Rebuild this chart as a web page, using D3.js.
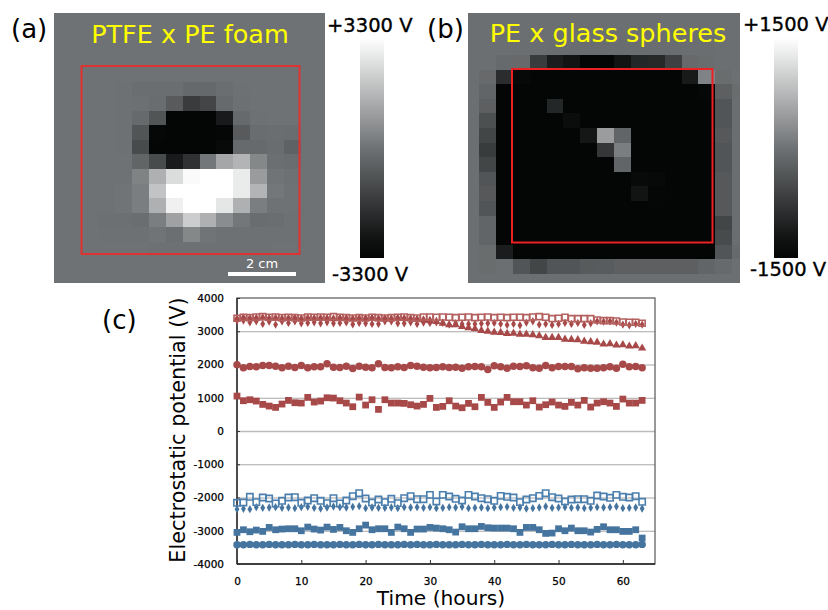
<!DOCTYPE html>
<html><head><meta charset="utf-8">
<script src="https://cdn.jsdelivr.net/npm/d3@7/dist/d3.min.js"></script>
<style>html,body{margin:0;padding:0;background:#fff}svg{display:block}text{font-family:"DejaVu Sans",sans-serif}</style>
</head><body><svg id="c" width="828" height="610"></svg>
<script>
// ---- heat map (a), volts, rows top to bottom, 17 columns
const mapA = [
[0,0,0,0,0,0,0,0,0,0,0,0,0,0,0,0,0],
[0,0,0,0,0,0,0,0,0,0,0,0,0,0,0,0,0],
[0,0,0,0,0,0,0,0,0,0,0,0,0,0,0,0,0],
[0,0,0,0,0,0,0,0,0,0,0,0,0,0,0,0,0],
[0,0,0,0,0,0,0,0,0,0,0,0,0,0,0,0,0],
[0,0,0,0,-30,-100,-100,-100,-250,-250,-100,-30,0,0,0,0,0],
[0,0,0,0,-30,-50,-150,-670,-1550,-1260,-230,-50,0,0,0,0,0],
[0,0,0,0,-30,-230,-820,-3300,-3300,-3300,-2480,-230,-30,0,0,0,0],
[0,0,0,0,-30,-820,-3100,-3300,-3300,-3300,-3200,-670,-150,-100,-150,0,0],
[0,0,0,0,-30,-1110,-3300,-3300,-3300,-3300,-2950,-230,-230,-150,-450,0,0],
[0,0,0,0,0,-380,-1110,-2480,-1840,120,1210,1550,510,-90,-150,0,0],
[0,0,0,0,0,390,1440,2480,3180,3300,3300,2830,970,50,-30,0,0],
[0,0,0,0,50,280,1900,3300,3300,3300,3300,2830,1550,120,0,0,0],
[0,0,0,0,50,280,1440,2950,3300,3300,2710,1440,280,0,0,0,0],
[0,0,0,-50,-50,-100,280,1090,2130,1440,630,120,-150,-100,-30,0,0],
[0,0,0,-30,-30,-30,50,-90,510,50,-30,-30,-30,-30,-30,0,0],
[0,0,0,0,0,0,-30,-30,-30,-30,-30,-30,-30,0,0,0,0],
[0,0,0,0,0,0,0,0,0,0,0,0,0,0,0,0,0],
[0,0,0,0,0,0,0,0,0,0,0,0,0,0,0,0,0]
];
// ---- heat map (b), volts
const mapB = [
[-40,-40,-40,-40,-40,-40,-40,-40,-40,-40,-40,-40,-40,-40,-40,-40,-40],
[-40,-40,-40,-40,-40,-40,-40,-40,-40,-40,-40,-40,-40,-40,-40,-40,-40],
[-40,-40,-40,-50,-50,-60,-60,-60,-60,-60,-60,-60,-60,-50,-50,-40,-40],
[-40,-40,-100,-110,-700,-1100,-1210,-1500,-1500,-1210,-970,-940,-640,-110,-70,-40,-40],
[-40,-110,-900,-1370,-1500,-1500,-1500,-1500,-1500,-1500,-1500,-1500,-1500,-1130,180,-70,-20],
[-40,-170,-1500,-1500,-1500,-1500,-1500,-1500,-1500,-1500,-1500,-1500,-1500,-1500,-1400,-240,-70],
[-40,-240,-1500,-1500,-1500,-970,-1500,-1500,-1500,-1500,-1500,-1500,-1500,-1500,-1500,-370,-50],
[-40,-440,-1500,-1500,-1500,-1500,-1300,-1500,-1500,-1500,-1500,-1500,-1500,-1500,-1500,-370,-50],
[-40,-570,-1500,-1500,-1500,-1500,-1500,-1170,450,-170,-1500,-1500,-1500,-1500,-1500,-330,-50],
[-40,-700,-1500,-1500,-1500,-1500,-1500,-1500,-770,130,-1500,-1500,-1500,-1500,-1500,-370,-50],
[-40,-570,-1500,-1500,-1500,-1500,-1500,-1500,-1500,-170,-1500,-1500,-1500,-1500,-1500,-370,-50],
[-40,-370,-1500,-1500,-1500,-1500,-1500,-1500,-1500,-1500,-1340,-1370,-1500,-1500,-1500,-330,-50],
[-40,-330,-1500,-1500,-1500,-1500,-1500,-1500,-1500,-1500,-1210,-1430,-1500,-1500,-1500,-330,-50],
[-40,-370,-1500,-1500,-1500,-1500,-1500,-1500,-1500,-1500,-1500,-1500,-1500,-1500,-1500,-330,-50],
[-40,-170,-1500,-1500,-1500,-1500,-1500,-1500,-1500,-1500,-1500,-1500,-1500,-1500,-1500,-570,-50],
[-40,-170,-1500,-1500,-1500,-1500,-1500,-1500,-1500,-1500,-1500,-1500,-1500,-1500,-1500,-500,-50],
[-40,-70,-1100,-1500,-1500,-1500,-1500,-1500,-1500,-1500,-1500,-1500,-1500,-1500,-1500,-370,-100],
[-40,-70,-40,-370,-570,-370,-370,-300,-280,-240,-240,-240,-240,-240,-170,-100,-40],
[-40,-40,-40,-40,-40,-40,-40,-40,-40,-40,-40,-40,-40,-40,-40,-40,-40]
];
// ---- chart (c)
const xTicks = [0,10,20,30,40,50,60];
const yTicks = [-4000,-3000,-2000,-1000,0,1000,2000,3000,4000];
const hours = d3.range(64);
const redSquareOpen = [3390,3420,3410,3430,3440,3420,3430,3410,3420,3410,3400,3430,3420,3430,3420,3440,3420,3410,3400,3410,3400,3420,3410,3400,3410,3420,3430,3410,3400,3430,3430,3420,3430,3420,3410,3420,3430,3410,3420,3430,3410,3420,3410,3420,3420,3410,3430,3440,3420,3380,3390,3420,3380,3380,3380,3380,3340,3320,3320,3310,3280,3270,3270,3240];
const redDiamond = [3320,3320,3270,3300,3220,3290,3200,3300,3250,3300,3240,3250,3270,3240,3270,3240,3250,3270,3210,3250,3240,3220,3220,3300,3300,3240,3240,3270,3220,3260,3250,3270,3250,3200,3240,3220,3220,3220,3230,3240,3250,3220,3190,3220,3180,3260,3300,3200,3220,3190,3220,3250,3220,3250,3190,3240,3300,3290,3300,3260,3200,3180,3220,3200];
const redTriangle = [3370,3400,3380,3390,3400,3380,3390,3370,3380,3390,3370,3390,3380,3390,3380,3370,3390,3380,3370,3380,3380,3390,3370,3380,3370,3390,3380,3370,3360,3340,3320,3290,3240,3190,3190,3140,3100,3070,3020,3000,2970,2960,2930,2940,2910,2910,2890,2860,2810,2810,2810,2760,2750,2740,2700,2680,2670,2610,2620,2580,2590,2550,2560,2490];
const redCircle = [1990,1900,1940,1930,1970,1970,1950,1900,1950,1910,1970,1900,1930,1930,2020,1920,1910,1950,1880,1950,1920,1900,2020,1910,1900,1930,1910,1970,1950,1920,1900,1910,1930,1910,1920,1890,1930,1940,1930,1850,1960,1930,1890,1950,1940,1960,1900,1890,1970,1900,1940,1940,1940,1870,1900,1890,1890,1900,1930,1890,2010,1930,1940,1900];
const redSquare = [1050,910,940,900,800,750,710,810,920,850,840,1010,870,900,1000,990,910,840,730,1020,780,940,650,940,840,840,830,790,750,800,980,710,740,910,750,700,830,730,1010,860,710,870,1010,880,880,780,910,720,790,870,780,740,860,780,920,720,840,880,840,740,960,840,840,920];
const blueSquareOpen = [-2160,-2150,-1980,-2140,-2000,-2030,-2180,-2100,-2000,-1990,-2160,-2090,-2020,-2100,-2170,-2020,-2180,-2090,-1960,-1870,-2030,-2150,-2060,-2140,-2040,-2170,-2020,-1960,-2050,-2050,-1920,-2120,-1920,-1970,-2040,-2090,-1920,-1970,-2020,-2050,-2100,-1950,-1980,-2000,-2140,-2060,-2020,-1950,-1870,-1990,-2030,-2120,-2060,-2050,-2050,-2100,-1940,-1970,-2010,-1920,-1980,-2000,-1960,-2130];
const blueDiamond = [-2350,-2340,-2350,-2290,-2310,-2300,-2290,-2310,-2300,-2320,-2290,-2280,-2310,-2330,-2300,-2270,-2290,-2300,-2280,-2260,-2320,-2300,-2310,-2310,-2300,-2320,-2290,-2300,-2290,-2310,-2290,-2320,-2310,-2290,-2300,-2280,-2320,-2310,-2300,-2320,-2300,-2290,-2280,-2310,-2300,-2330,-2320,-2300,-2270,-2310,-2300,-2290,-2310,-2300,-2320,-2310,-2290,-2300,-2290,-2270,-2320,-2310,-2300,-2330];
const blueSquare = [-3050,-2970,-3030,-2980,-3020,-2900,-2970,-2950,-2940,-2940,-3000,-2890,-2950,-2980,-2890,-2960,-2900,-3000,-3050,-2940,-2830,-2970,-2940,-2940,-3050,-2890,-2940,-3050,-2950,-2950,-2900,-2920,-2940,-2970,-3040,-2880,-2940,-2940,-2870,-2910,-2920,-2920,-2920,-2940,-3050,-2900,-2900,-2970,-3080,-3070,-2940,-3000,-2920,-3000,-3000,-3040,-2960,-2880,-2970,-2970,-3020,-3020,-2970,-3220];
const blueCircle = [-3420,-3420,-3410,-3420,-3420,-3410,-3420,-3420,-3420,-3410,-3420,-3420,-3410,-3420,-3420,-3420,-3410,-3420,-3420,-3410,-3420,-3420,-3410,-3420,-3420,-3420,-3410,-3420,-3410,-3420,-3420,-3410,-3420,-3420,-3420,-3410,-3420,-3420,-3410,-3420,-3420,-3420,-3410,-3420,-3420,-3410,-3420,-3420,-3420,-3410,-3420,-3420,-3410,-3420,-3420,-3420,-3410,-3420,-3420,-3410,-3420,-3420,-3420,-3410];

const RED="#a84848", RED2="#b4605f", BLUE="#44749f", BLUE2="#4b7fae";
const seriesList=[
 {v:redSquare,s:d3.symbolSquare,a:46,c:RED},
 {v:redCircle,s:d3.symbolCircle,a:44,c:RED},
 {v:redTriangle,s:d3.symbolTriangle,a:30,c:RED},
 {v:redDiamond,s:d3.symbolDiamond,a:20,c:RED},
 {v:redSquareOpen,s:d3.symbolSquare,a:36,c:RED2,open:1},
 {v:blueCircle,s:d3.symbolCircle,a:44,c:BLUE},
 {v:blueSquare,s:d3.symbolSquare,a:46,c:BLUE},
 {v:blueDiamond,s:d3.symbolDiamond,a:20,c:BLUE},
 {v:blueSquareOpen,s:d3.symbolSquare,a:40,c:BLUE2,open:1}
];

const svg=d3.select("#c");
const defs=svg.append("defs");
defs.append("filter").attr("id","soft").append("feGaussianBlur").attr("stdDeviation",0.45);

function heat(id,matrix,vmax,px,py,x0,y0,dx,dy){
  const color=d3.scaleLinear().domain([-vmax,-vmax*0.9,0,vmax]).range(["#040606","#070909","#6f7274","#ffffff"]).clamp(true);
  const col=d3.scaleLinear().domain([0,17]).range([x0,x0+17*dx]);
  const row=d3.scaleLinear().domain([0,19]).range([y0,y0+19*dy]);
  defs.append("clipPath").attr("id",id).append("rect").attr("x",px[0]).attr("y",py[0]).attr("width",px[1]-px[0]).attr("height",py[1]-py[0]);
  const g=svg.append("g").attr("clip-path",`url(#${id})`).attr("shape-rendering","crispEdges");
  matrix.forEach((r,i)=>r.forEach((v,j)=>{
    const xa=Math.round(col(j)),xb=Math.round(col(j+1)),ya=Math.round(row(i)),yb=Math.round(row(i+1));
    g.append("rect").attr("x",xa).attr("y",ya).attr("width",xb-xa).attr("height",yb-ya).attr("fill",color(v));
  }));
  return color;
}
function colorbar(id,color,vmax,x,y,w,h){
  const sc=d3.scaleLinear().domain([vmax,-vmax]).range([y,y+h]);
  const grad=defs.append("linearGradient").attr("id",id).attr("x1",0).attr("x2",0).attr("y1",0).attr("y2",1);
  d3.range(0,1.001,0.1).forEach(t=>grad.append("stop").attr("offset",t).attr("stop-color",color(sc.invert(y+t*h))));
  svg.append("rect").attr("x",x).attr("y",y).attr("width",w).attr("height",h).attr("fill",`url(#${id})`);
}
function txt(x,y,s,size,fill,anchor){return svg.append("text").attr("x",x).attr("y",y).attr("font-size",size).attr("fill",fill||"#000").attr("text-anchor",anchor||"start").text(s);}

const cA=heat("clipA",mapA,3300,[54,325],[13,283],47.7,8.8,16.87,14.57);
const cB=heat("clipB",mapB,1500,[468,740],[13,283],462.2,11.2,16.87,14.6);
colorbar("gradA",cA,3300,360,38,24,220);
colorbar("gradB",cB,1500,774,38,24,220);

svg.append("rect").attr("x",81.5).attr("y",66).attr("width",218).attr("height",188).attr("fill","none").attr("stroke","#dd3333").attr("stroke-width",2);
svg.append("rect").attr("x",512).attr("y",69).attr("width",200.5).attr("height",173.5).attr("fill","none").attr("stroke","#ed2024").attr("stroke-width",2);
svg.append("rect").attr("x",228).attr("y",272).attr("width",68).attr("height",4).attr("fill","#fff");
txt(262,268,"2 cm",13,"#fff","middle");

txt(190,43,"PTFE x PE foam",25.5,"#ffff00","middle");
txt(608,42,"PE x glass spheres",25.5,"#ffff00","middle");
txt(11,38,"(a)",26);
txt(427,38,"(b)",26);
txt(102,329,"(c)",26);
const heavy=s=>s.attr("stroke","#000").attr("stroke-width",0.35);
heavy(txt(327,32,"+3300 V",19.5));
heavy(txt(332,281,"-3300 V",19.5));
heavy(txt(743,31,"+1500 V",19.5));
heavy(txt(750,276,"-1500 V",19.5));

// chart
const x=d3.scaleLinear().domain([0,65]).range([237,655]);
const y=d3.scaleLinear().domain([-4000,4000]).range([564,298]);
const grid=svg.append("g").attr("transform","translate(237,0)").call(d3.axisLeft(y).tickValues(yTicks.slice(1,-1)).tickSize(-418).tickFormat(""));
grid.select(".domain").remove();
grid.selectAll("line").attr("stroke","#a8a8a8").attr("stroke-width",1);
grid.selectAll(".tick").filter(d=>d===0).select("line").attr("stroke","#bbbbbb").attr("stroke-width",1.6);

svg.append("rect").attr("x",237).attr("y",298).attr("width",418).attr("height",266).attr("fill","none").attr("stroke","#555").attr("stroke-width",1.2);
svg.append("line").attr("x1",237).attr("x2",237).attr("y1",298).attr("y2",564).attr("stroke","#333").attr("stroke-width",1.5);
svg.append("line").attr("x1",237).attr("x2",655).attr("y1",564).attr("y2",564).attr("stroke","#222").attr("stroke-width",1.5);

const ay=svg.append("g").attr("transform","translate(237,0)").call(d3.axisLeft(y).tickValues(yTicks).tickSizeInner(-3).tickSizeOuter(0).tickPadding(13).tickFormat(d=>d));
ay.select(".domain").remove();
ay.selectAll("line").attr("stroke","#333");
ay.selectAll("text").attr("font-size",10.5).attr("fill","#000").attr("font-family",'"DejaVu Sans",sans-serif').attr("stroke","#000").attr("stroke-width",0.25);
const ax=svg.append("g").attr("transform","translate(0,564)").call(d3.axisBottom(x).tickValues(xTicks).tickSizeInner(-4).tickSizeOuter(0).tickPadding(14));
ax.select(".domain").remove();
ax.selectAll("line").attr("stroke","#333");
ax.selectAll("text").attr("font-size",10.5).attr("fill","#000").attr("font-family",'"DejaVu Sans",sans-serif').attr("stroke","#000").attr("stroke-width",0.25);

const marks=svg.append("g").attr("filter","url(#soft)");
seriesList.forEach(s=>{
  const p=d3.symbol().type(s.s).size(s.a)();
  marks.append("g").selectAll("path").data(s.v).join("path")
    .attr("d",p)
    .attr("transform",(d,i)=>`translate(${x(hours[i])},${y(d)})`)
    .attr("fill",s.open?"none":s.c)
    .attr("stroke",s.open?s.c:"none")
    .attr("stroke-width",s.open?1.6:0);
});

svg.append("text").attr("transform","translate(185,430) rotate(-90)").attr("text-anchor","middle").attr("font-size",20.8).text("Electrostatic potential (V)");
txt(441,605,"Time (hours)",20.2,"#000","middle");
</script></body></html>
